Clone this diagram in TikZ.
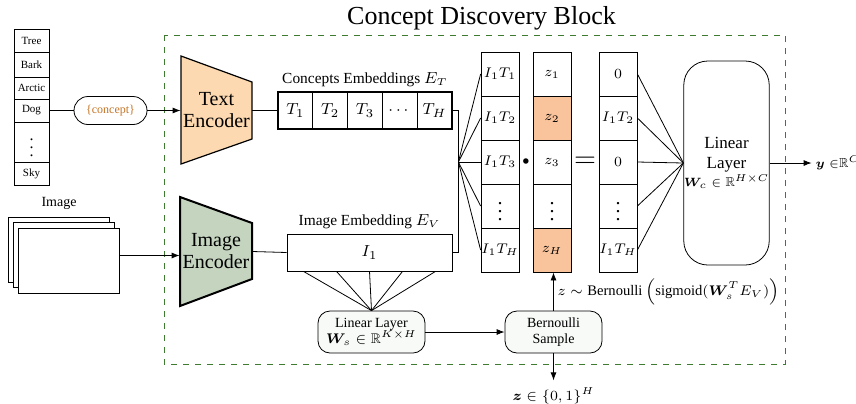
\documentclass[tikz,border=0pt]{standalone}
\usepackage{fontspec}
\setmainfont{Liberation Serif}
\usepackage{amsmath}
\usepackage{amssymb}
\usepackage{bm}
\usetikzlibrary{positioning, arrows.meta}
\usepackage{xcolor}
\definecolor{encorange}{RGB}{252,217,176}
\definecolor{zorange}{RGB}{249,195,155}
\definecolor{encgreen}{RGB}{196,212,191}
\definecolor{blockgreen}{RGB}{62,122,48}
\definecolor{conceptbrown}{RGB}{196,116,38}
\definecolor{boxfill}{RGB}{247,250,247}
\newcommand{\bigvdots}{\text{\fontsize{10}{10}\selectfont$\vdots$}}

\begin{document}
\begin{tikzpicture}[x=0.5pt, y=-0.5pt,
        arr/.style={-{Latex[length=4pt, width=3pt]}},
        listcell/.style={draw, minimum width=17.5pt, inner sep=0pt, font=\fontsize{5.5}{6}\selectfont},
        tcell/.style={draw, minimum width=17.4pt, minimum height=18.5pt, inner sep=0pt, font=\fontsize{8}{9}\selectfont},
        vcell/.style={draw, fill=white, minimum width=19pt, minimum height=22pt, inner sep=0pt, font=\fontsize{7}{8}\selectfont},
        roundbox/.style={draw, fill=boxfill, rounded corners=6pt, align=center, inner sep=1pt},
        enclabel/.style={align=center, font=\fontsize{10}{11}\selectfont, inner sep=0pt}]
    \useasboundingbox (0,0) rectangle (856,403);

    % block frame
    \draw[blockgreen, dashed, line width=0.5pt] (164,35) rectangle (785,364);
    \node[font=\fontsize{13}{14}\selectfont] (title) at (481.5,18) {Concept Discovery Block};

    % concept list
    \foreach \txt/\yc/\h [count=\i] in {Tree/40.5/23, Bark/64.5/25, Arctic/88/22, Dog/110.5/23, {\fontsize{8}{8}\selectfont$\vdots$}/142/40, Sky/173.5/23}
        \node[listcell, minimum height=\h*0.5pt] (c\i) at (31.5,\yc) {\txt};
    \node[draw, rounded corners=7pt, minimum width=36.5pt, minimum height=14pt, inner sep=0pt,
          text=conceptbrown, font=\fontsize{6}{7}\selectfont] (cpt) at (110.5,110.5) {\{concept\}};

    % text encoder
    \draw[fill=encorange, line width=0.6pt] (181,56) -- (252,82) -- (252,139) -- (181,164) -- cycle;
    \node[enclabel, minimum width=35.5pt, minimum height=54pt] (tenc) at (216.5,110.5) {Text\\Encoder};

    % image input
    \node[draw, fill=white, minimum width=50.5pt, minimum height=32.5pt] (imgb) at (59,249.5) {};
    \node[draw, fill=white, minimum width=50.5pt, minimum height=32.5pt] (imgm) at (63.5,254.5) {};
    \node[draw, fill=white, minimum width=50.5pt, minimum height=32.5pt] (imgin) at (68.5,260.5) {};
    \node[font=\fontsize{7}{8}\selectfont, above=0pt of imgb] {Image};

    % image encoder
    \draw[fill=encgreen, line width=1pt] (180,197) -- (252,223) -- (252,279) -- (180,306) -- cycle;
    \node[enclabel, minimum width=36pt, minimum height=54.5pt] (ienc) at (216,251.5) {Image\\Encoder};

    % embeddings
    \foreach \lab [count=\i] in {T_1, T_2, T_3, \cdots, T_H}
        \node[tcell] (t\i) at (278+34.8*\i-17.4,110.5) {$\lab$};
    \draw[line width=1pt] (t1.north west) rectangle (t5.south east);
    \node[font=\fontsize{7.7}{9}\selectfont, above=-1pt of t3] {Concepts Embeddings $E_T$};
    \node[draw, minimum width=82.5pt, minimum height=18.5pt, font=\fontsize{8}{9}\selectfont] (img1) at (369.5,252.5) {$I_1$};
    \node[font=\fontsize{7.7}{9}\selectfont, above=-1pt of img1] {Image Embedding $E_V$};

    % product, mask and result
    \foreach \lab [count=\i] in {I_1T_1, I_1T_2, I_1T_3, \bigvdots, I_1T_H}
        \node[vcell] (p\i) at (500,52+44*\i-22) {$\lab$};
    \foreach \lab/\col [count=\i] in {z_1/white, z_2/zorange, z_3/white, \bigvdots/white, z_H/zorange}
        \node[vcell, fill=\col] (z\i) at (552,52+44*\i-22) {$\lab$};
    \foreach \lab [count=\i] in {0, I_1T_2, 0, \bigvdots, I_1T_H}
        \node[vcell] (r\i) at (618,52+44*\i-22) {$\lab$};
    \node[font=\fontsize{6}{6}\selectfont] (dot) at (526,162) {$\bullet$};
    \node[font=\fontsize{14}{14}\selectfont] (eq) at (585,162) {$=$};

    \node[draw, rounded corners=12pt, minimum width=39.5pt, minimum height=102pt, align=center,
          inner sep=0pt, font=\fontsize{8.5}{10}\selectfont] (llbig) at (726.5,163)
          {Linear\\Layer\\[-1pt]{\fontsize{6.5}{7}\selectfont$\bm{W}_c\in\mathbb{R}^{H\times C}$}};

    \node[roundbox, minimum width=53.5pt, minimum height=21pt, font=\fontsize{7}{8}\selectfont] (lls) at (371.5,332)
          {Linear Layer\\$\bm{W}_s\in\mathbb{R}^{K\times H}$};
    \node[roundbox, minimum width=48.5pt, minimum height=21pt, font=\fontsize{7}{8}\selectfont] (bern) at (553.5,332)
          {Bernoulli\\Sample};

    % connectors
    \draw (c4) -- (cpt);
    \draw[arr] (cpt) -- (tenc.west);
    \draw (tenc.east) -- (t1.west);
    \coordinate (imgout) at ([yshift=2.5pt]imgin.east);
    \draw[arr] (imgout) -- (imgout -| ienc.west);
    \draw (ienc.east) -- (img1.west);

    \path (t5.east) ++(6,0) coordinate (bk);
    \coordinate (fanL) at (bk |- p3.west);
    \draw (t5.east) -- (bk) |- (img1.east);
    \foreach \i in {1,...,5}
        \draw (fanL) -- (p\i.west);

    \coordinate (fanR) at (llbig.west);
    \foreach \i in {1,...,5}
        \draw (r\i.east) -- (fanR);

    \foreach \dx in {-66,-33,0,33,66}
        \draw (img1.south) ++(\dx,0) -- (lls.north);

    \draw[arr] (llbig.east) -- ++(42,0) node[right=-1.5pt, font=\fontsize{6.5}{7}\selectfont] (yout) {$\bm{y}\;{\in}\mathbb{R}^C$};
    \draw[arr] (lls.east) -- (bern.west);
    \draw[arr] (bern.north) -- (bern.north |- z5.south)
        node[midway, right=-1.5pt, font=\fontsize{7.3}{9}\selectfont] (samp)
        {$z\sim\mathrm{Bernoulli}\,\Big(\mathrm{sigmoid}(\bm{W}_s^T E_V)\Big)$};
    \draw[arr] (bern.south) -- ++(0,27) node[below, font=\fontsize{7}{8}\selectfont] (zout) {$\bm{z}\in\{0,1\}^H$};
\end{tikzpicture}
\end{document}
